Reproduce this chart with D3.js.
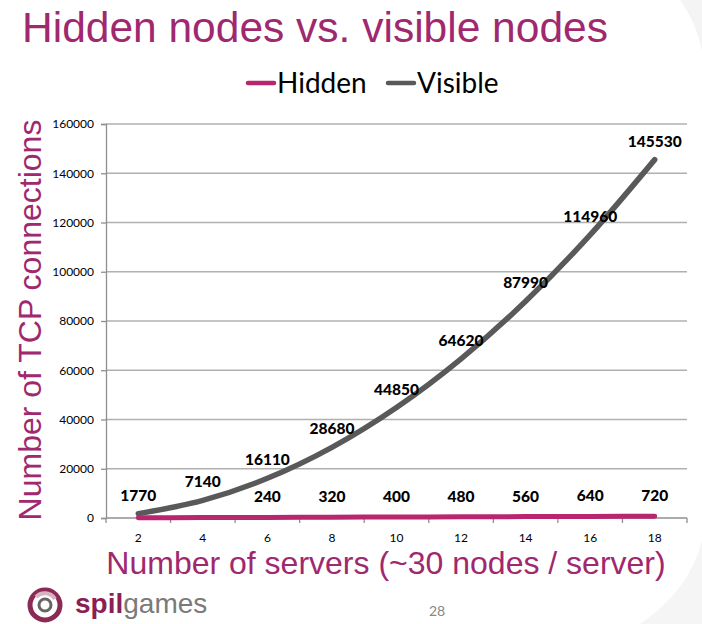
<!DOCTYPE html>
<html><head><meta charset="utf-8">
<script src="https://cdn.jsdelivr.net/npm/d3@7"></script>
<style>
html,body{margin:0;padding:0;background:#fff;}
svg{display:block;}
</style></head>
<body>
<svg id="chart" width="702" height="624"></svg>
<script>
const categories = [2, 4, 6, 8, 10, 12, 14, 16, 18];
const hiddenValues = [80, 160, 240, 320, 400, 480, 560, 640, 720];
const visibleValues = [1770, 7140, 16110, 28680, 44850, 64620, 87990, 114960, 145530];
const hiddenLabelShown = [false, false, true, true, true, true, true, true, true];
const yTicks = [0, 20000, 40000, 60000, 80000, 100000, 120000, 140000, 160000];
const seriesNames = ["Hidden", "Visible"];

const titleColor = "#a0286f";
const hiddenColor = "#b8266f";
const visibleColor = "#595959";

const svg = d3.select("#chart");
const L = 106, R = 687, T = 124, B = 518;

// background decoration (slide swoosh)
svg.append("path").attr("d","M680,0 Q695,20 702,50 L702,0 Z").attr("fill","#ececec").attr("opacity",0.6);
svg.append("path").attr("d","M702,540 Q690,590 640,624 L702,624 Z").attr("fill","#f1f1f1").attr("opacity",0.7);

// title
svg.append("text").attr("x", 22).attr("y", 42)
  .attr("font-family","'Liberation Sans', Arial, sans-serif").attr("font-size", 42.5)
  .attr("fill", titleColor).text("Hidden nodes vs. visible nodes");

const x = d3.scaleBand().domain(categories).range([L, R]);
const y = d3.scaleLinear().domain([0, 160000]).range([B, T]);

// gridlines
svg.append("g").selectAll("line").data(yTicks.filter(d => d > 0)).join("line")
  .attr("x1", L).attr("x2", R).attr("y1", d => y(d)).attr("y2", d => y(d))
  .attr("stroke", "#b0b0b0").attr("stroke-width", 1.3);

// y axis
const yAxis = svg.append("g").attr("transform", `translate(${L},0)`)
  .call(d3.axisLeft(y).tickValues(yTicks).tickSize(5).tickPadding(7).tickFormat(d3.format("d")));
yAxis.select(".domain").attr("stroke", "#8f8f8f").attr("stroke-width", 1.3);
yAxis.selectAll(".tick line").attr("stroke", "#8f8f8f").attr("stroke-width", 1.3);
yAxis.selectAll(".tick text").attr("font-family","Lato, 'Open Sans', sans-serif")
  .attr("font-size", 12).attr("fill","#000");

// x axis
const xAxisG = svg.append("g").attr("transform", `translate(0,${B})`);
xAxisG.append("line").attr("x1", L).attr("x2", R).attr("y1", 0).attr("y2", 0)
  .attr("stroke", "#8f8f8f").attr("stroke-width", 1.3);
const boundaries = categories.map(c => x(c)).concat([x(categories[categories.length-1]) + x.bandwidth()]);
xAxisG.selectAll("line.tk").data(boundaries).join("line").attr("class","tk")
  .attr("x1", d => d).attr("x2", d => d).attr("y1", 0).attr("y2", 5)
  .attr("stroke", "#8f8f8f").attr("stroke-width", 1.3);
xAxisG.selectAll("text").data(categories).join("text")
  .attr("x", d => x(d) + x.bandwidth()/2).attr("y", 24)
  .attr("text-anchor","middle").attr("font-family","Lato, 'Open Sans', sans-serif")
  .attr("font-size", 12).attr("fill","#000").text(d => d);

// lines
const cx = d => x(d) + x.bandwidth()/2;
const line = d3.line().x(d => cx(d[0])).y(d => y(d[1])).curve(d3.curveMonotoneX);
const hiddenPts = categories.map((c,i) => [c, hiddenValues[i]]);
const visiblePts = categories.map((c,i) => [c, visibleValues[i]]);
svg.append("path").datum(visiblePts).attr("d", line).attr("fill","none")
  .attr("stroke", visibleColor).attr("stroke-width", 5.5).attr("stroke-linecap","round").attr("stroke-linejoin","round");
svg.append("path").datum(hiddenPts).attr("d", line).attr("fill","none")
  .attr("stroke", hiddenColor).attr("stroke-width", 5).attr("stroke-linecap","round").attr("stroke-linejoin","round");

// data labels
const lblFont = "Lato, 'Open Sans', sans-serif";
svg.append("g").selectAll("text").data(visiblePts).join("text")
  .attr("x", d => cx(d[0])).attr("y", d => y(d[1]) - 13)
  .attr("text-anchor","middle").attr("font-family", lblFont).attr("font-weight", 900)
  .attr("font-size", 15.5).attr("fill","#000").text(d => d[1]);
svg.append("g").selectAll("text").data(hiddenPts.filter((d,i) => hiddenLabelShown[i])).join("text")
  .attr("x", d => cx(d[0])).attr("y", d => y(d[1]) - 15)
  .attr("text-anchor","middle").attr("font-family", lblFont).attr("font-weight", 900)
  .attr("font-size", 15.5).attr("fill","#000").text(d => d[1]);

// legend
const legend = svg.append("g");
const legItems = [{name: seriesNames[0], color: hiddenColor, x: 248}, {name: seriesNames[1], color: visibleColor, x: 388}];
legItems.forEach(it => {
  legend.append("line").attr("x1", it.x).attr("x2", it.x + 26).attr("y1", 83).attr("y2", 83)
    .attr("stroke", it.color).attr("stroke-width", 4.5).attr("stroke-linecap","round");
  legend.append("text").attr("x", it.x + 29).attr("y", 93)
    .attr("font-family", lblFont).attr("font-size", 28).attr("fill","#000").text(it.name);
});

// axis titles
svg.append("text").attr("transform", "translate(41,320) rotate(-90)")
  .attr("text-anchor","middle").attr("font-family","'Liberation Sans', Arial, sans-serif")
  .attr("font-size", 32).attr("fill", titleColor).text("Number of TCP connections");
svg.append("text").attr("x", 386).attr("y", 574)
  .attr("text-anchor","middle").attr("font-family","'Liberation Sans', Arial, sans-serif")
  .attr("font-size", 32).attr("fill", titleColor).text("Number of servers (~30 nodes / server)");

// logo
const logo = svg.append("g").attr("transform","translate(45,605)");
logo.append("circle").attr("r", 15).attr("fill","none").attr("stroke","#8a2a55").attr("stroke-width", 5);
logo.append("path").attr("d","M-9,-8 A12,12 0 0 1 10,-6").attr("fill","none").attr("stroke","#d9b3c4").attr("stroke-width",4);
logo.append("circle").attr("r", 6).attr("fill","none").attr("stroke","#666").attr("stroke-width", 3);
svg.append("text").attr("x", 75).attr("y", 613)
  .attr("font-family","'Liberation Sans', Arial, sans-serif").attr("font-size", 28)
  .attr("font-weight","bold").attr("fill","#8a1f55").text("spil")
  .append("tspan").attr("font-weight","normal").attr("fill","#7a7a7a").text("games");

svg.append("text").attr("x", 437).attr("y", 616).attr("text-anchor","middle")
  .attr("font-family", lblFont).attr("font-size", 14).attr("fill","#888").text("28");
</script>
</body></html>
